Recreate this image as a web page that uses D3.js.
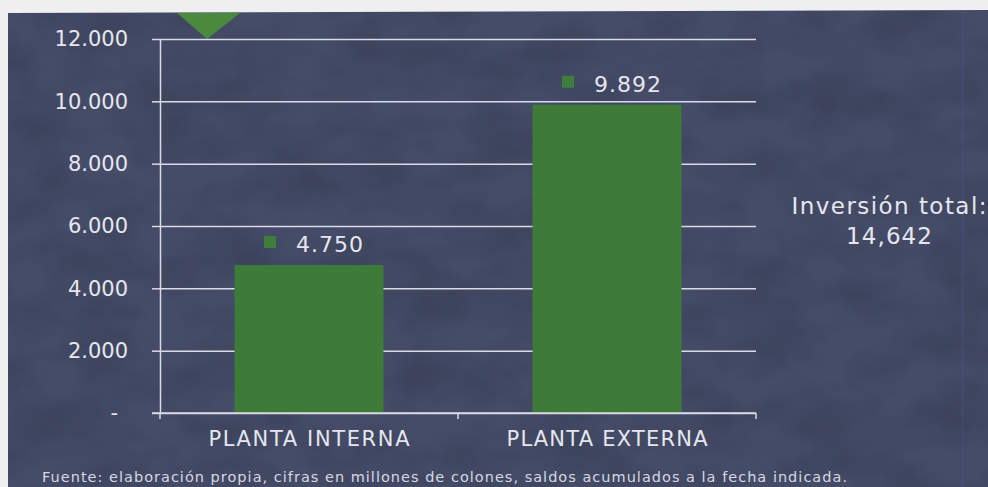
<!DOCTYPE html>
<html>
<head>
<meta charset="utf-8">
<script src="https://cdn.jsdelivr.net/npm/d3@7/dist/d3.min.js"></script>
<style>
  html, body { margin: 0; padding: 0; background: #efefef; }
  svg { display: block; }
  text { font-family: "DejaVu Sans", "Noto Sans", sans-serif; }
</style>
</head>
<body>
<svg id="chart" width="988" height="487"></svg>
<script>
const categories = ["PLANTA INTERNA", "PLANTA EXTERNA"];
const values = [4750, 9892];
const valueLabels = ["4.750", "9.892"];
const yTickValues = [0, 2000, 4000, 6000, 8000, 10000, 12000];
const yTickLabels = ["-", "2.000", "4.000", "6.000", "8.000", "10.000", "12.000"];
const totalLabel = ["Inversión total:", "14,642"];
const footnote = "Fuente: elaboración propia, cifras en millones de colones, saldos acumulados a la fecha indicada.";

const W = 988, H = 487;
const plot = { left: 160, right: 756, top: 39, bottom: 413 };

const svg = d3.select("#chart");
const defs = svg.append("defs");

// subtle mottled texture filter
const f = defs.append("filter").attr("id", "tex").attr("x", 0).attr("y", 0).attr("width", 1).attr("height", 1);
f.append("feTurbulence").attr("type", "fractalNoise").attr("baseFrequency", "0.015 0.025").attr("numOctaves", 3).attr("seed", 7).attr("result", "noise");
f.append("feColorMatrix").attr("in", "noise").attr("type", "matrix")
  .attr("values", "0 0 0 0 0  0 0 0 0 0  0 0 0 0 0  0 0 0 0.9 -0.3").attr("result", "a");
f.append("feComposite").attr("in", "a").attr("in2", "SourceGraphic").attr("operator", "in");

const panel = "M8,13 L988,10 L988,487 L8,487 Z";
svg.append("path").attr("d", panel).attr("fill", "#454c68");
svg.append("path").attr("d", panel).attr("fill", "#363c55").attr("opacity", 0.25).attr("filter", "url(#tex)");
svg.append("line").attr("x1", 963).attr("x2", 963).attr("y1", 10).attr("y2", 487)
  .attr("stroke", "#4c57a0").attr("stroke-width", 1).attr("opacity", 0.5);

// decorative green triangle at top
svg.append("path").attr("d", "M177,13 L240,13 L207,39 Z").attr("fill", "#4a8a3c");

const x = d3.scaleBand().domain(categories).range([plot.left, plot.right]).paddingInner(0.5).paddingOuter(0.25);
const y = d3.scaleLinear().domain([0, 12000]).range([plot.bottom, plot.top]);

const gridColor = "#d9dbe4";
const textColor = "#e6e7ee";

// gridlines
svg.append("g")
  .attr("transform", `translate(${plot.left},0)`)
  .call(d3.axisLeft(y).tickValues(yTickValues).tickSizeInner(-(plot.right - plot.left)).tickSizeOuter(0).tickFormat(""))
  .call(g => g.select(".domain").remove())
  .call(g => g.selectAll("line").attr("stroke", gridColor).attr("stroke-width", 1.5));

// y axis with ticks and labels
const yAxis = svg.append("g")
  .attr("transform", `translate(${plot.left},0)`)
  .call(d3.axisLeft(y).tickValues(yTickValues).tickSizeInner(8).tickSizeOuter(0).tickPadding(24)
    .tickFormat((d, i) => yTickLabels[i]));
yAxis.select(".domain").attr("stroke", gridColor).attr("stroke-width", 1.5);
yAxis.selectAll("line").attr("stroke", gridColor).attr("stroke-width", 1.5);
yAxis.selectAll("text").attr("fill", textColor).attr("font-size", 21).attr("font-family", "DejaVu Sans");
yAxis.selectAll("text").filter(d => d === 0).attr("dx", -10);

// bars
const bw = x.bandwidth();
svg.append("g").selectAll("rect").data(values).join("rect")
  .attr("x", (d, i) => x(categories[i]))
  .attr("y", d => y(d))
  .attr("width", bw)
  .attr("height", d => y(0) - y(d))
  .attr("fill", "#3f7b38");

// x axis
const xg = svg.append("g");
xg.append("line").attr("x1", plot.left - 8).attr("x2", plot.right).attr("y1", y(0)).attr("y2", y(0))
  .attr("stroke", gridColor).attr("stroke-width", 1.5);
const step = x.step();
const boundaries = [plot.left, ...categories.slice(1).map(c => x(c) - x.paddingInner() * step / 2), plot.right];
xg.selectAll("line.tk").data(boundaries).join("line").attr("class", "tk")
  .attr("x1", d => d).attr("x2", d => d).attr("y1", y(0)).attr("y2", y(0) + 6)
  .attr("stroke", gridColor).attr("stroke-width", 1.5);
xg.selectAll("text").data(categories).join("text")
  .attr("x", d => x(d) + bw / 2)
  .attr("y", 446)
  .attr("text-anchor", "middle")
  .attr("fill", textColor)
  .attr("font-size", 21)
  .attr("textLength", 201)
  .attr("lengthAdjust", "spacing")
  .text(d => d);

// value labels with legend key squares
const lab = svg.append("g").selectAll("g").data(values).join("g")
  .attr("transform", (d, i) => `translate(${x(categories[i]) + bw / 2},${y(d) - 13})`);
lab.append("rect").attr("x", -45).attr("y", -16).attr("width", 12).attr("height", 12).attr("fill", "#3f7d3a");
lab.append("text").attr("x", -13).attr("y", 0).attr("fill", textColor).attr("font-size", 22)
  .attr("textLength", 67).attr("lengthAdjust", "spacing")
  .text((d, i) => valueLabels[i]);

// total annotation
svg.append("g").selectAll("text").data(totalLabel).join("text")
  .attr("x", 889).attr("y", (d, i) => 214 + i * 30)
  .attr("text-anchor", "middle").attr("fill", textColor).attr("font-size", 23)
  .attr("textLength", (d, i) => i === 0 ? 195 : 86).attr("lengthAdjust", "spacing")
  .text(d => d);

// footnote
svg.append("text").attr("x", 42).attr("y", 482).attr("fill", "#d6d8e2")
  .attr("font-size", 14.5).attr("textLength", 805).attr("lengthAdjust", "spacing").text(footnote);
</script>
</body>
</html>
